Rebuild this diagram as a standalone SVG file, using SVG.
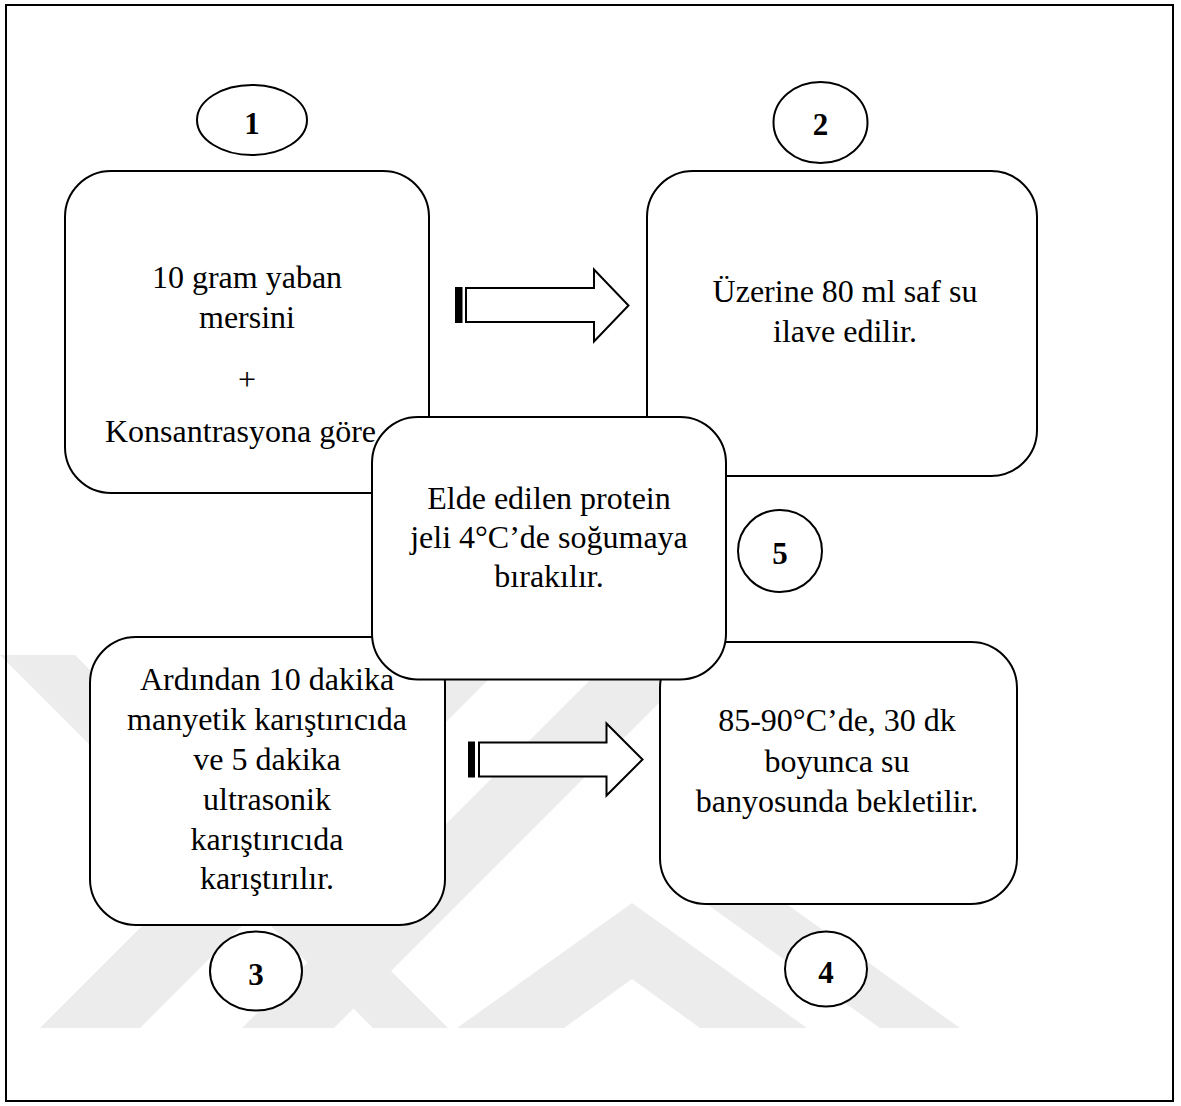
<svg xmlns="http://www.w3.org/2000/svg" width="1181" height="1106" viewBox="0 0 1181 1106">
<style>
.box{fill:#fff;stroke:#000;stroke-width:2}
.badge{fill:#fff;stroke:#000;stroke-width:2}
.t{font-family:"Liberation Serif","Times New Roman",serif;font-size:32px;fill:#000;text-anchor:middle}
.n{font-family:"Liberation Serif","Times New Roman",serif;font-size:31px;font-weight:bold;fill:#000;text-anchor:middle}
.wm{fill:#ececec}
.arr{fill:#fff;stroke:#000;stroke-width:2;stroke-linejoin:miter}
</style>
<rect x="0" y="0" width="1181" height="1106" fill="#fff"/>
<g id="watermark">
<polygon class="wm" points="0,655 75,655 448,1028 373,1028"/>
<polygon class="wm" points="40,1028 140,1028 520,648 420,648"/>
<polygon class="wm" points="242,1028 334,1028 722,640 630,640"/>
<polygon class="wm" points="457,1028 632,903 807,1028 700,1028 632,979 564,1028"/>
<polygon class="wm" points="673,880 753,880 960,1028 880,1028"/>
</g>
<rect id="frame" x="6" y="5" width="1167" height="1096" fill="none" stroke="#000" stroke-width="2"/>
<g id="node-1">
<rect class="box" x="65" y="171" width="364" height="322" rx="46"/>
<text class="t" x="247" y="288">10 gram yaban</text>
<text class="t" x="247" y="328">mersini</text>
<text class="t" x="247" y="390">+</text>
<text class="t" x="105" y="442" style="text-anchor:start">Konsantrasyona göre</text>
</g>
<g id="node-2">
<rect class="box" x="647" y="171" width="390" height="305" rx="46"/>
<text class="t" x="845" y="302">Üzerine 80 ml saf su</text>
<text class="t" x="845" y="342">ilave edilir.</text>
</g>
<g id="node-3">
<rect class="box" x="90" y="637" width="355" height="288" rx="46"/>
<text class="t" x="267" y="690">Ardından 10 dakika</text>
<text class="t" x="267" y="730">manyetik karıştırıcıda</text>
<text class="t" x="267" y="770">ve 5 dakika</text>
<text class="t" x="267" y="810">ultrasonik</text>
<text class="t" x="267" y="850">karıştırıcıda</text>
<text class="t" x="267" y="889">karıştırılır.</text>
</g>
<g id="node-4">
<rect class="box" x="660" y="642" width="357" height="262" rx="46"/>
<text class="t" x="837" y="731">85-90°C’de, 30 dk</text>
<text class="t" x="837" y="772">boyunca su</text>
<text class="t" x="837" y="812">banyosunda bekletilir.</text>
</g>
<g id="connectors">
<g id="arrow-1-2">
<rect x="455" y="287" width="7.5" height="36" fill="#000"/>
<polygon class="arr" points="466,288 594,288 594,269.5 628.5,305.5 594,341.5 594,322 466,322"/>
</g>
<g id="arrow-3-4">
<rect x="468" y="741.5" width="7" height="36" fill="#000"/>
<polygon class="arr" points="479,742.5 606.5,742.5 606.5,723.5 642.5,759.5 606.5,795.5 606.5,776.5 479,776.5"/>
</g>
</g>
<g id="badge-1">
<ellipse class="badge" cx="252" cy="120" rx="55" ry="35"/>
<text class="n" x="252" y="134">1</text>
</g>
<g id="badge-2">
<ellipse class="badge" cx="820.5" cy="122.5" rx="47" ry="40.5"/>
<text class="n" x="820.5" y="134.5">2</text>
</g>
<g id="badge-3">
<ellipse class="badge" cx="256" cy="971" rx="46" ry="39.5"/>
<text class="n" x="256" y="985">3</text>
</g>
<g id="badge-4">
<ellipse class="badge" cx="826" cy="969" rx="41" ry="37.5"/>
<text class="n" x="826" y="983">4</text>
</g>
<g id="badge-5">
<ellipse class="badge" cx="780" cy="551" rx="42" ry="41"/>
<text class="n" x="780" y="563.5">5</text>
</g>
<g id="node-5">
<rect class="box" x="372" y="417" width="354" height="262.5" rx="46"/>
<text class="t" x="549" y="509">Elde edilen protein</text>
<text class="t" x="549" y="548">jeli 4°C’de soğumaya</text>
<text class="t" x="549" y="587">bırakılır.</text>
</g>
</svg>
